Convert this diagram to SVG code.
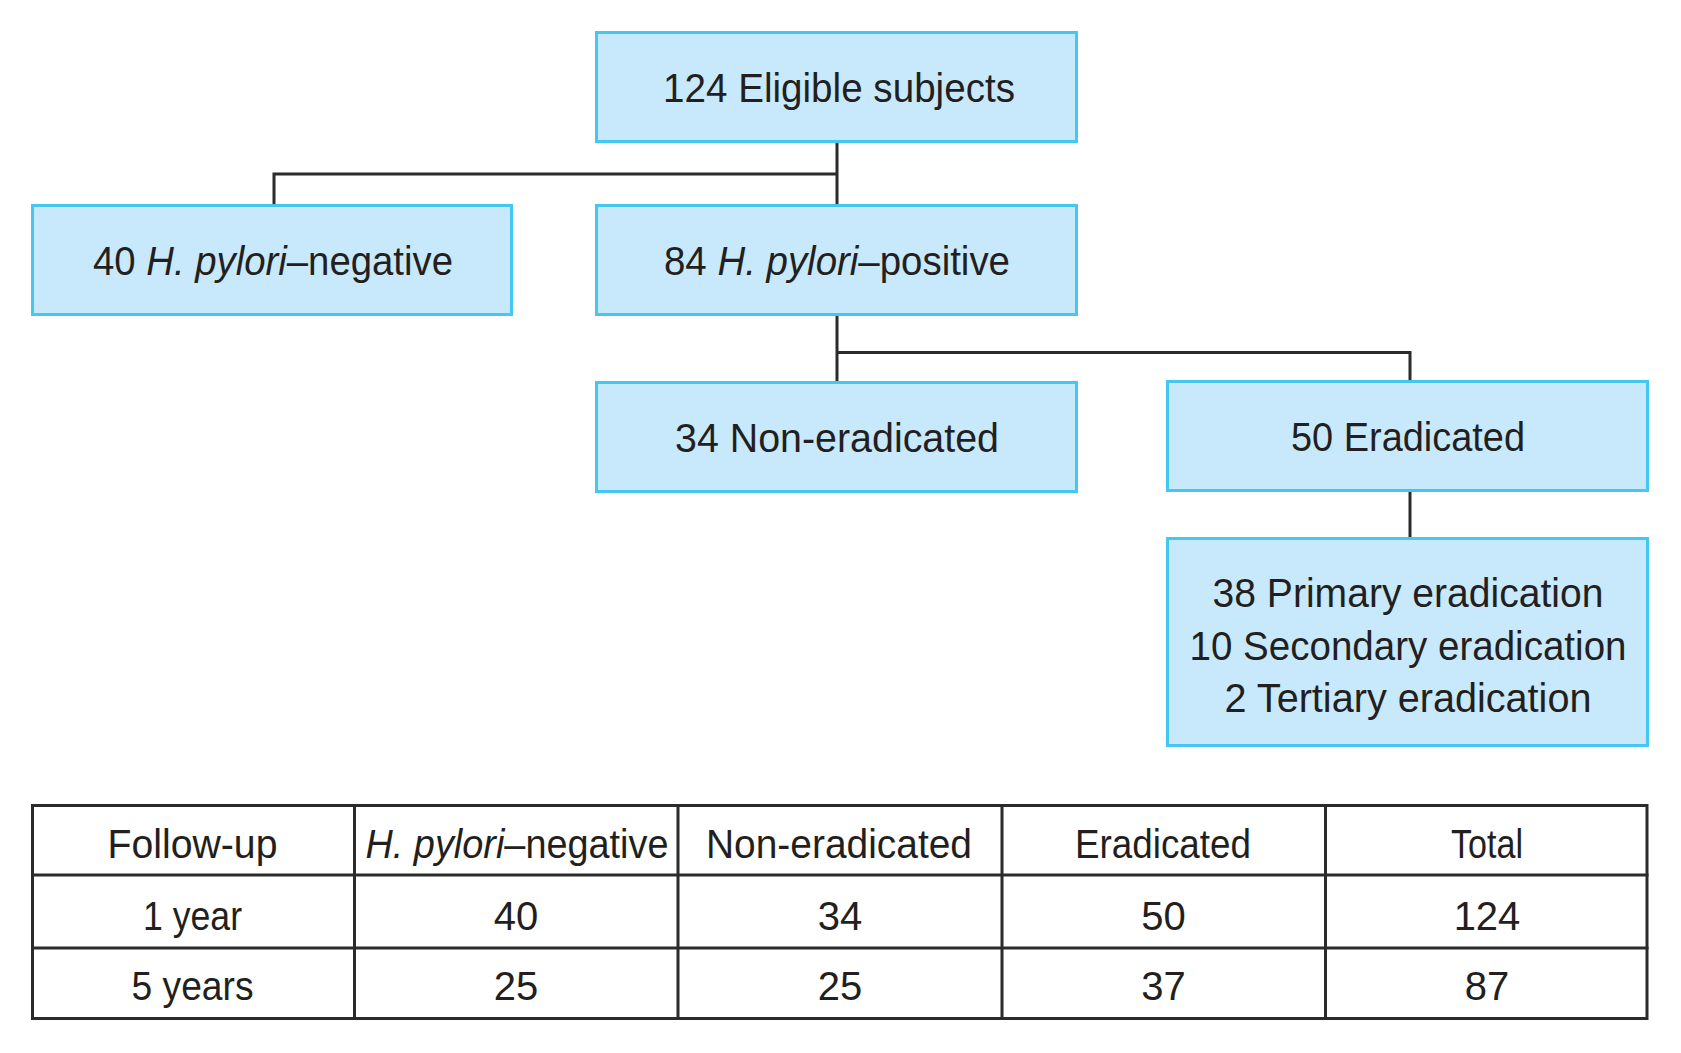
<svg xmlns="http://www.w3.org/2000/svg" width="1681" height="1053" viewBox="0 0 1681 1053">
<style>
  .box { fill: #c8e9fb; stroke: #44c8f2; stroke-width: 3; }
  .lbl { font-family: "Liberation Sans", Arial, sans-serif; font-size: 40px; fill: #231f20; text-anchor: middle; }
  .it { font-style: italic; }
  .conn { fill: none; stroke: #2b2b2b; stroke-width: 3; }
  .grid { fill: none; stroke: #2b2b2b; stroke-width: 3; }
</style>
<rect width="1681" height="1053" fill="#ffffff"/>

<g id="connectors">
  <path class="conn" d="M837,143 V204"/>
  <path class="conn" d="M274,204 V174 H837"/>
  <path class="conn" d="M837,316 V381"/>
  <path class="conn" d="M837,352.5 H1410 V380"/>
  <path class="conn" d="M1410,492 V537"/>
</g>

<g id="eligible">
  <rect class="box" x="596.5" y="32.5" width="480" height="109"/>
  <text class="lbl" x="839" y="102" textLength="352" lengthAdjust="spacingAndGlyphs">124 Eligible subjects</text>
</g>

<g id="hp-negative">
  <rect class="box" x="32.5" y="205.5" width="479" height="109"/>
  <text class="lbl" x="273" y="275" textLength="360" lengthAdjust="spacingAndGlyphs">40 <tspan class="it">H. pylori</tspan>–negative</text>
</g>

<g id="hp-positive">
  <rect class="box" x="596.5" y="205.5" width="480" height="109"/>
  <text class="lbl" x="837" y="275" textLength="346" lengthAdjust="spacingAndGlyphs">84 <tspan class="it">H. pylori</tspan>–positive</text>
</g>

<g id="non-eradicated">
  <rect class="box" x="596.5" y="382.5" width="480" height="109"/>
  <text class="lbl" x="837" y="452" textLength="324" lengthAdjust="spacingAndGlyphs">34 Non-eradicated</text>
</g>

<g id="eradicated">
  <rect class="box" x="1167.5" y="381.5" width="480" height="109"/>
  <text class="lbl" x="1408" y="451" textLength="234" lengthAdjust="spacingAndGlyphs">50 Eradicated</text>
</g>

<g id="eradication-detail">
  <rect class="box" x="1167.5" y="538.5" width="480" height="207"/>
  <text class="lbl" x="1408" y="607" textLength="391" lengthAdjust="spacingAndGlyphs">38 Primary eradication</text>
  <text class="lbl" x="1408" y="660" textLength="437" lengthAdjust="spacingAndGlyphs">10 Secondary eradication</text>
  <text class="lbl" x="1408" y="712" textLength="367" lengthAdjust="spacingAndGlyphs">2 Tertiary eradication</text>
</g>

<g id="table">
  <rect class="grid" x="32.5" y="805.5" width="1614.5" height="213"/>
  <path class="grid" d="M31,875 H1648.5 M31,948 H1648.5 M354.5,804 V1020 M678,804 V1020 M1002,804 V1020 M1325.5,804 V1020"/>
  <text class="lbl" x="192.5" y="858" textLength="170" lengthAdjust="spacingAndGlyphs">Follow-up</text>
  <text class="lbl" x="517" y="858" textLength="303" lengthAdjust="spacingAndGlyphs"><tspan class="it">H. pylori</tspan>–negative</text>
  <text class="lbl" x="839" y="858" textLength="266" lengthAdjust="spacingAndGlyphs">Non-eradicated</text>
  <text class="lbl" x="1163" y="858" textLength="176" lengthAdjust="spacingAndGlyphs">Eradicated</text>
  <text class="lbl" x="1487" y="858" textLength="72" lengthAdjust="spacingAndGlyphs">Total</text>

  <text class="lbl" x="192.5" y="930" textLength="99" lengthAdjust="spacingAndGlyphs">1 year</text>
  <text class="lbl" x="516" y="930">40</text>
  <text class="lbl" x="840" y="930">34</text>
  <text class="lbl" x="1163.5" y="930">50</text>
  <text class="lbl" x="1487" y="930">124</text>

  <text class="lbl" x="192.5" y="1000" textLength="122" lengthAdjust="spacingAndGlyphs">5 years</text>
  <text class="lbl" x="516" y="1000">25</text>
  <text class="lbl" x="840" y="1000">25</text>
  <text class="lbl" x="1163.5" y="1000">37</text>
  <text class="lbl" x="1487" y="1000">87</text>
</g>
</svg>
